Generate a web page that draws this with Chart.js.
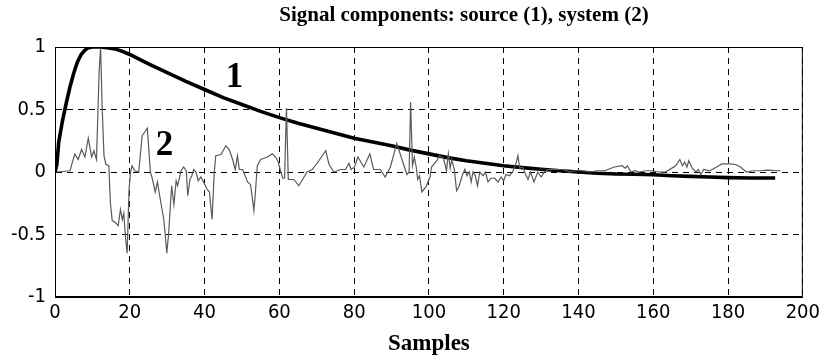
<!DOCTYPE html>
<html>
<head>
<meta charset="utf-8">
<script src="https://cdn.jsdelivr.net/npm/chart.js@4.4.1/dist/chart.umd.min.js"></script>
<style>
  html, body { margin: 0; padding: 0; background: #fff; }
  #wrap { width: 824px; height: 361px; position: relative; }
</style>
</head>
<body>
<div id="wrap"><canvas id="sigChart"></canvas></div>
<script>
/* Signal components — source (1) and system (2) */

const TITLE = 'Signal components: source (1), system (2)';
const X_LABEL = 'Samples';

const xTicks = [0, 20, 40, 60, 80, 100, 120, 140, 160, 180, 200];
const yTicks = [-1, -0.5, 0, 0.5, 1];

// curve 1 : source (thick)
const srcX = [0, 0.5, 1, 2, 3, 4, 5, 6, 7, 8, 9, 10, 12, 14, 16, 18, 20, 25, 30, 35, 40, 45, 50, 55, 60, 65, 70, 75, 80, 85, 90, 95, 100, 105, 110, 115, 120, 125, 130, 135, 140, 145, 150, 155, 160, 165, 170, 175, 180, 186, 192.6];
const srcY = [0, 0.06, 0.24, 0.41, 0.55, 0.68, 0.79, 0.88, 0.94, 0.975, 0.995, 1.0, 1.0, 0.995, 0.985, 0.965, 0.94, 0.865, 0.795, 0.725, 0.66, 0.595, 0.54, 0.485, 0.435, 0.39, 0.35, 0.31, 0.27, 0.24, 0.21, 0.175, 0.145, 0.115, 0.09, 0.07, 0.05, 0.035, 0.022, 0.01, 0.0, -0.01, -0.016, -0.018, -0.022, -0.03, -0.035, -0.04, -0.045, -0.048, -0.048];

// curve 2 : system (thin, noisy)
const sysX = [0.5, 4, 5.3, 6.2, 7.1, 8, 8.9, 9.8, 10.4, 11.1, 11.8, 12.2, 12.6, 13.1, 13.6, 14.4, 14.8, 15.3, 16, 16.9, 17.5, 18, 18.4, 18.9, 19.3, 19.8, 20.2, 20.6, 21.3, 22.4, 23.3, 24, 24.7, 25.5, 26, 26.8, 27.4, 28, 29.1, 29.6, 29.9, 30.4, 30.9, 31.2, 31.8, 32.4, 32.8, 33.7, 34.4, 35.1, 35.5, 36.1, 36.6, 37.1, 37.7, 38.3, 39, 39.9, 40.7, 41.3, 42, 42.6, 43, 44.4, 45.7, 46.6, 47.5, 48.2, 48.8, 49.3, 50.2, 51.5, 52.3, 53.2, 53.6, 54.1, 55, 56.8, 58.1, 59, 59.7, 60.4, 60.9, 61.4, 61.9, 62.4, 63, 63.9, 65.2, 66.6, 67.4, 68.8, 70.1, 72.4, 73.3, 74.6, 76.4, 77.7, 78.6, 79.2, 80.1, 81, 82.6, 84.2, 85.2, 87, 88.3, 89.7, 91.4, 92.8, 94.1, 94.7, 95.1, 95.6, 96.1, 96.6, 97, 97.5, 98.1, 99.2, 100.3, 100.7, 102.1, 102.8, 103.9, 104.7, 105.2, 105.7, 106.1, 106.8, 107.4, 108, 108.9, 109.6, 110.2, 110.8, 111.3, 111.8, 112.4, 113, 113.6, 114.5, 115.1, 115.8, 116.6, 117.6, 118.5, 119.3, 120, 120.6, 121.5, 122.4, 123.4, 123.8, 124.3, 125.1, 125.7, 126.5, 127.2, 128.1, 129.1, 130, 130.9, 131.8, 134, 136, 137.5, 139, 141, 143, 145, 147, 149.6, 151.7, 152.5, 153.1, 154, 155, 156.2, 158, 159.8, 161.5, 163.2, 164.7, 166, 167.1, 167.8, 168.4, 169, 169.5, 170.4, 171.4, 172.1, 172.7, 173.5, 175, 175.8, 177.5, 178.4, 180.6, 182, 183.3, 184.1, 185, 186.8, 188.6, 190.4, 194];
const sysY = [0.0, 0.01, 0.145, 0.10, 0.18, 0.12, 0.27, 0.12, 0.17, 0.10, 0.80, 1.0, 0.53, 0.13, 0.06, 0.05, -0.24, -0.39, -0.40, -0.43, -0.30, -0.38, -0.33, -0.54, -0.65, -0.14, 0.0, 0.05, 0.01, 0.0, 0.29, 0.32, 0.35, 0.0, -0.05, -0.16, -0.08, -0.19, -0.38, -0.54, -0.65, -0.49, -0.25, -0.11, -0.26, -0.07, -0.11, 0.01, 0.04, 0.01, -0.19, -0.06, -0.03, 0.02, 0.0, -0.07, -0.04, -0.09, -0.14, -0.16, -0.38, 0.0, 0.13, 0.14, 0.21, 0.18, 0.10, 0.02, 0.13, 0.02, 0.02, -0.08, -0.10, -0.31, -0.16, 0.05, 0.10, 0.12, 0.145, 0.12, 0.08, 0.0, -0.05, -0.05, 0.51, -0.06, -0.06, -0.06, -0.11, -0.04, 0.0, 0.02, 0.07, 0.17, 0.06, 0.0, 0.02, 0.02, 0.07, 0.02, 0.04, 0.12, 0.04, 0.145, 0.02, 0.02, -0.04, 0.04, 0.23, 0.10, -0.02, 0.0, 0.56, 0.05, 0.12, 0.04, -0.06, -0.03, -0.16, -0.12, -0.04, 0.04, 0.09, 0.13, 0.11, 0.01, 0.145, 0.03, 0.10, 0.02, -0.15, -0.12, -0.03, 0.02, -0.03, 0.0, -0.08, 0.0, -0.03, -0.11, 0.0, -0.03, 0.0, -0.08, -0.05, -0.05, -0.08, -0.04, -0.07, -0.02, -0.03, 0.0, 0.08, 0.13, 0.03, 0.04, -0.01, -0.06, 0.0, -0.08, 0.0, -0.04, 0.0, 0.02, 0.02, 0.02, 0.0, 0.01, 0.01, 0.0, 0.01, 0.01, 0.04, 0.05, 0.03, 0.05, 0.0, 0.01, 0.0, 0.01, 0.01, 0.0, 0.0, 0.025, 0.05, 0.10, 0.05, 0.08, 0.04, 0.09, 0.03, 0.0, 0.02, -0.02, 0.02, 0.01, 0.02, 0.05, 0.065, 0.065, 0.06, 0.04, 0.02, 0.0, 0.01, 0.01, 0.015, 0.01];

// in-plot curve numbers
const noteText = ['1', '2'];
const noteX = [48, 29.3];
const noteY = [0.75, 0.21];

const TICK_FONT = "'Liberation Sans Narrow', 'DejaVu Sans Condensed', 'Liberation Sans', sans-serif";
const SERIF = "'Liberation Serif', 'DejaVu Serif', serif";

const toPoints = (xs, ys) => xs.map((x, i) => ({ x, y: ys[i] }));

// frame, curve numbers and chart title (MATLAB look)
const plotDecor = {
  id: 'plotDecor',
  afterDatasetsDraw(chart) {
    const { ctx, chartArea: a, scales: { x, y } } = chart;
    ctx.save();
    ctx.strokeStyle = '#000';
    ctx.lineWidth = 1;
    ctx.setLineDash([]);
    ctx.strokeRect(a.left + 0.5, a.top + 0.5, a.right - a.left - 1, a.bottom - a.top - 1);

    ctx.fillStyle = '#000';
    ctx.textAlign = 'center';
    ctx.textBaseline = 'middle';
    ctx.font = `bold 35px ${SERIF}`;
    noteText.forEach((t, i) => {
      ctx.fillText(t, x.getPixelForValue(noteX[i]), y.getPixelForValue(noteY[i]));
    });

    ctx.font = `bold 21px ${SERIF}`;
    ctx.textBaseline = 'alphabetic';
    ctx.fillText(TITLE, (a.left + a.right) / 2 + 35, a.top - 26);
    ctx.restore();
  }
};

new Chart(document.getElementById('sigChart'), {
  type: 'line',
  data: {
    datasets: [
      {
        label: 'system (2)',
        data: toPoints(sysX, sysY),
        borderColor: '#5a5a5a',
        borderWidth: 1.2,
        pointRadius: 0,
        tension: 0,
        fill: false,
      },
      {
        label: 'source (1)',
        data: toPoints(srcX, srcY),
        borderColor: '#000',
        borderWidth: 3.6,
        pointRadius: 0,
        tension: 0,
        fill: false,
      },
    ],
  },
  options: {
    responsive: true,
    maintainAspectRatio: false,
    devicePixelRatio: 1,
    animation: false,
    layout: { padding: { top: 47, right: 18, left: 0, bottom: 0 } },
    plugins: { legend: { display: false }, tooltip: { enabled: false }, title: { display: false } },
    scales: {
      x: {
        type: 'linear',
        min: 0, max: 200,
        afterBuildTicks: s => { s.ticks = xTicks.map(v => ({ value: v })); },
        afterFit: s => { s.height = 64; },
        grid: { color: '#000', lineWidth: 1, drawTicks: false },
        border: { display: true, color: '#000', width: 1, dash: [6, 5] },
        ticks: { color: '#000', padding: 4, maxRotation: 0, autoSkip: false, font: { family: TICK_FONT, size: 20 } },
        title: { display: true, text: X_LABEL, color: '#000', padding: { top: 0, bottom: 3 }, font: { family: SERIF, size: 23, weight: 'bold' } },
      },
      y: {
        min: -1, max: 1,
        afterBuildTicks: s => { s.ticks = yTicks.map(v => ({ value: v })); },
        afterFit: s => { s.width = 55; },
        grid: { color: '#000', lineWidth: 1, drawTicks: false },
        border: { display: true, color: '#000', width: 1, dash: [6, 5] },
        ticks: { color: '#000', padding: 9, autoSkip: false, callback: v => String(v), font: { family: TICK_FONT, size: 20 } },
      },
    },
  },
  plugins: [plotDecor],
});
</script>
</body>
</html>
